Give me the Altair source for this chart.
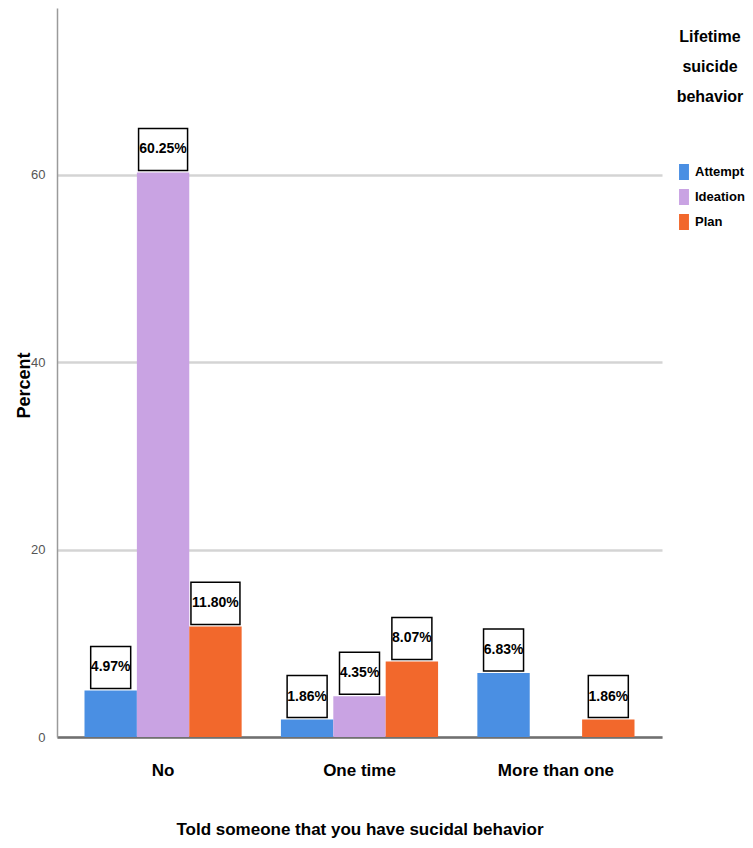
import altair as alt
import pandas as pd

categories = ["No", "One time", "More than one"]
series = ["Attempt", "Ideation", "Plan"]
attempt = [4.97, 1.86, 6.83]
ideation = [60.25, 4.35, None]
plan = [11.80, 8.07, 1.86]
colors = ["#4a8fe3", "#c9a3e3", "#f2682c"]

rows = []
for i, c in enumerate(categories):
    for s, vals in zip(series, [attempt, ideation, plan]):
        v = vals[i]
        rows.append({"told": c, "behavior": s, "pct": v,
                     "label": (f"{v:.2f}%" if v is not None else None)})
df = pd.DataFrame(rows)

FONT = "Liberation Sans"

x_enc = alt.X("told:N", sort=categories,
              scale=alt.Scale(paddingInner=0.2, paddingOuter=0.14),
              axis=alt.Axis(title="Told someone that you have sucidal behavior",
                            labelFont=FONT, labelFontSize=17, labelFontWeight="bold",
                            labelColor="black", labelPadding=25, labelAngle=0,
                            titleFont=FONT, titleFontSize=17, titleFontWeight="bold",
                            titleColor="black", titlePadding=43,
                            domainColor="#707070", domainWidth=2.5, ticks=False, grid=False))
y_enc = alt.Y("pct:Q",
              scale=alt.Scale(domain=[0, 77.8], nice=False, zero=True),
              axis=alt.Axis(title="Percent", values=[0, 20, 40, 60],
                            labelFont=FONT, labelFontSize=13, labelColor="#555555",
                            labelPadding=12, ticks=False,
                            titleFont=FONT, titleFontSize=18, titleFontWeight="bold",
                            titleColor="black", titleX=-33, titleY=377,
                            titleBaseline="middle", titleAlign="center", titleAngle=-90,
                            domainColor="#9a9a9a", domainWidth=1.5,
                            grid=True, gridColor="#d4d4d4", gridWidth=2.5))
xo = alt.XOffset("behavior:N", sort=series, scale=alt.Scale(domain=series, paddingInner=0, paddingOuter=0))

bars = alt.Chart(df).mark_bar().encode(
    x=x_enc, y=y_enc, xOffset=xo,
    color=alt.Color("behavior:N", sort=series,
                    scale=alt.Scale(domain=series, range=colors),
                    legend=alt.Legend(title=["Lifetime", "suicide", "behavior"],
                                      orient="none", legendX=619, legendY=21,
                                      titleFont=FONT, titleFontSize=16, titleFontWeight="bold",
                                      titleColor="black", titleAlign="center", titleAnchor="middle",
                                      titleLineHeight=30, titlePadding=59,
                                      labelFont=FONT, labelFontSize=13, labelFontWeight="bold",
                                      labelColor="black", labelOffset=3,
                                      symbolType="M-0.62,-1H0.62V1H-0.62Z", symbolSize=256,
                                      symbolStrokeWidth=0, rowPadding=9)),
)

lab = alt.Chart(df).transform_filter("datum.pct != null")
pos = dict(x=alt.X("told:N", sort=categories), y="pct:Q",
           xOffset=alt.XOffset("behavior:N", sort=series))

box_style = dict(filled=True, fill="white", stroke="black", strokeWidth=1.5,
                 opacity=1, yOffset=-23)
boxes_short = lab.transform_filter("length(datum.label) <= 5").mark_point(
    shape="M-1,-1.05H1V1.05H-1Z", size=1600, **box_style).encode(**pos)
boxes_long = lab.transform_filter("length(datum.label) > 5").mark_point(
    shape="M-1,-0.86H1V0.86H-1Z", size=2401, **box_style).encode(**pos)

texts = lab.mark_text(dy=-23, font=FONT, fontSize=14, fontWeight="bold",
                      color="black", baseline="middle").encode(text="label:N", **pos)

chart = alt.layer(bars, boxes_short, boxes_long, texts).properties(
    width=605, height=729, background="white",
    autosize=alt.AutoSizeParams(type="none"),
    padding={"left": 49, "top": 0, "right": 83, "bottom": 110},
).configure_view(stroke=None)

chart.save("out.html", embed_options={"renderer": "svg", "actions": False})
